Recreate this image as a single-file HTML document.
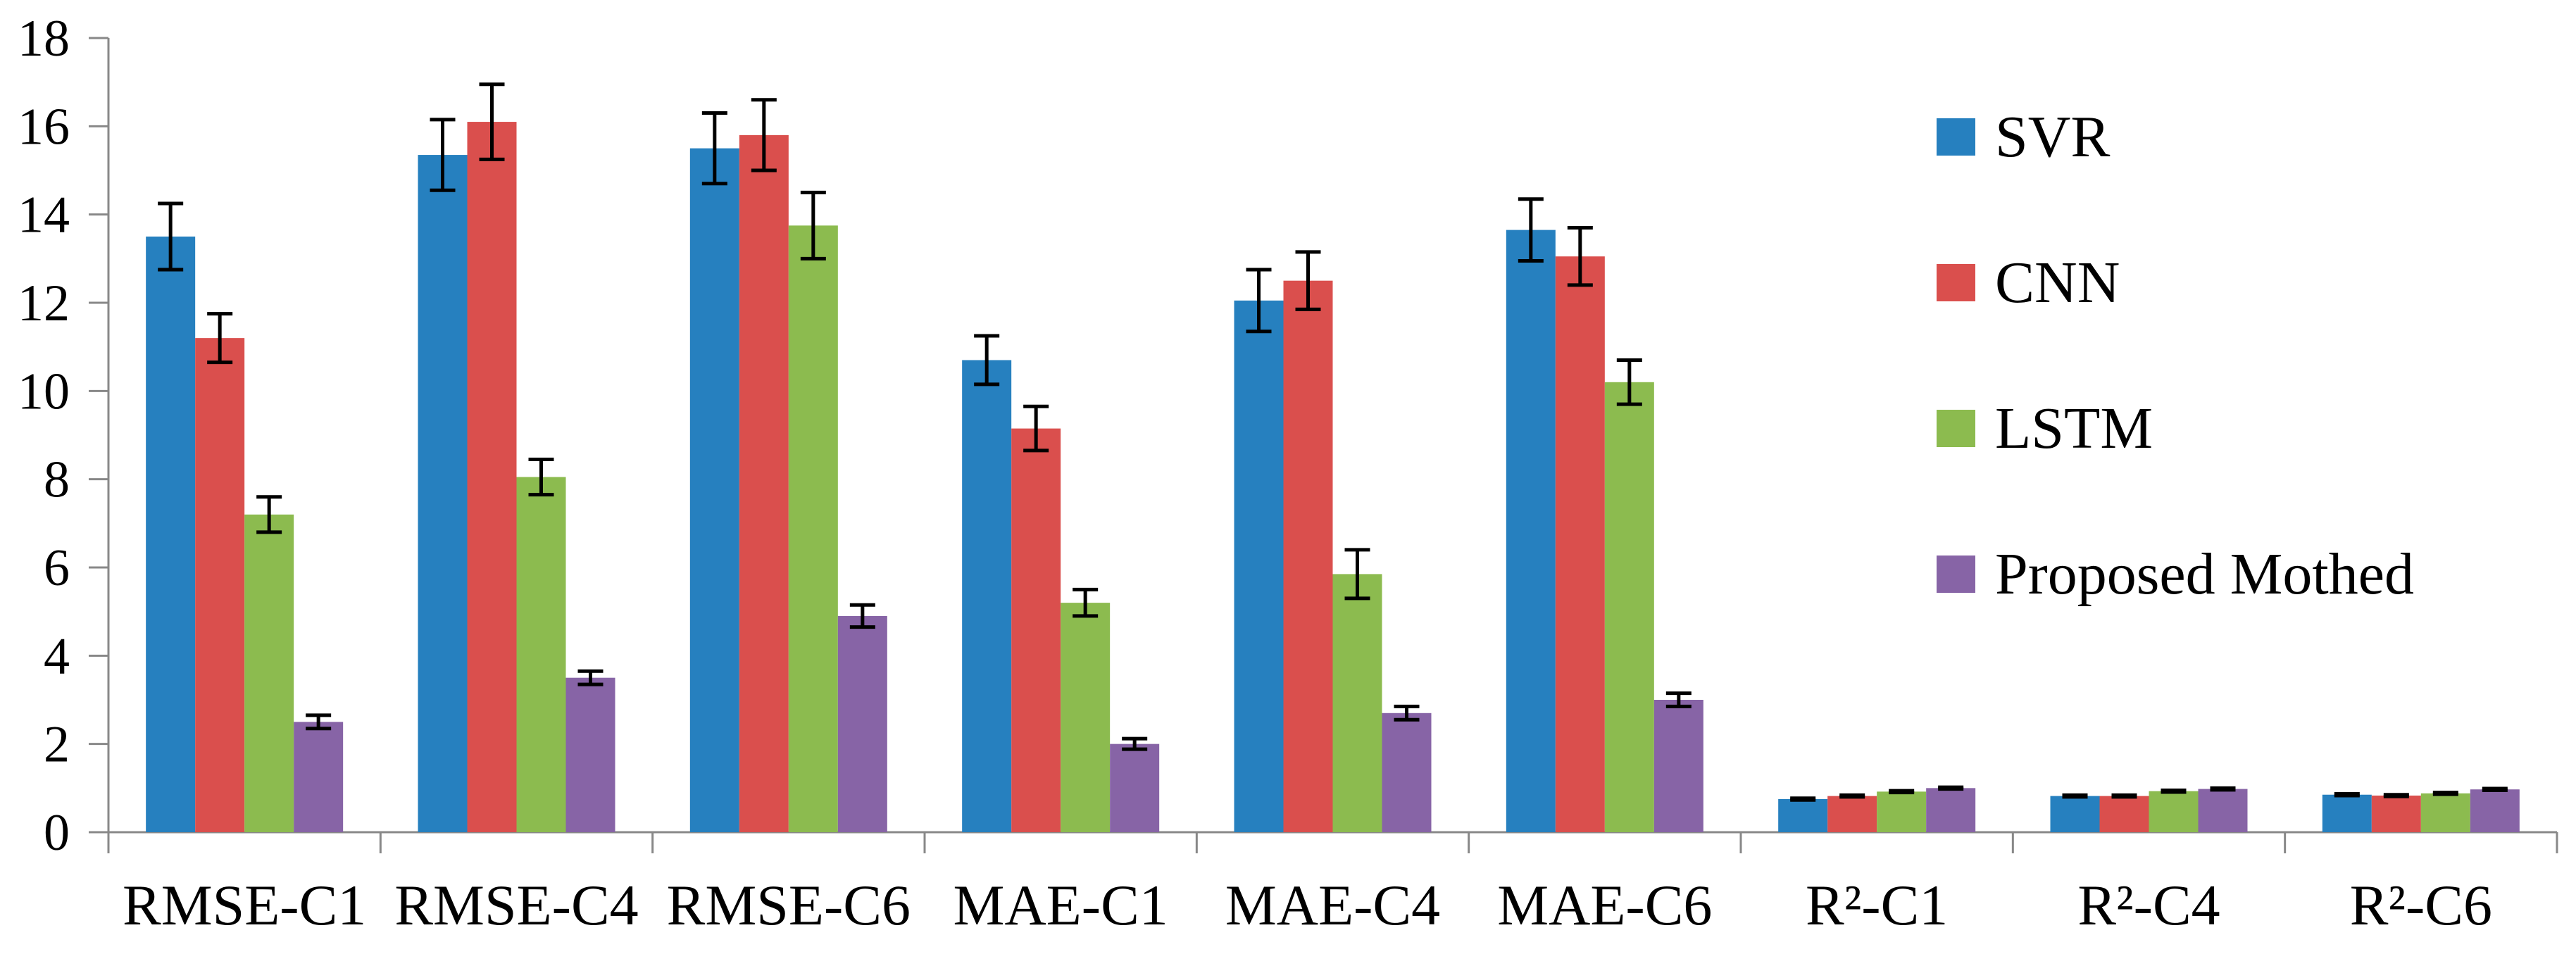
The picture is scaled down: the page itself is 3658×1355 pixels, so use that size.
<!DOCTYPE html>
<html><head><meta charset="utf-8"><style>
html,body{margin:0;padding:0;background:#fff;}
svg text{font-family:"Liberation Serif","Times New Roman",serif;fill:#000;}
</style></head><body>
<svg id="chart" width="3658" height="1350" viewBox="0 0 3658 1350" xmlns="http://www.w3.org/2000/svg" font-family="Liberation Serif, serif">
<g id="axes"></g><g id="bars"></g><g id="legend"></g>
</svg>
<script>
const categories = ["RMSE-C1","RMSE-C4","RMSE-C6","MAE-C1","MAE-C4","MAE-C6","R²-C1","R²-C4","R²-C6"];
const seriesNames = ["SVR","CNN","LSTM","Proposed Mothed"];
const svrValues = [13.5,15.35,15.5,10.7,12.05,13.65,0.75,0.82,0.85];
const cnnValues = [11.2,16.1,15.8,9.15,12.5,13.05,0.82,0.82,0.83];
const lstmValues = [7.2,8.05,13.75,5.2,5.85,10.2,0.92,0.93,0.88];
const propValues = [2.5,3.5,4.9,2.0,2.7,3.0,1.0,0.98,0.97];
const svrErr = [0.75,0.8,0.8,0.55,0.7,0.7,0.02,0.02,0.02];
const cnnErr = [0.55,0.85,0.8,0.5,0.65,0.65,0.02,0.02,0.02];
const lstmErr = [0.4,0.4,0.75,0.3,0.55,0.5,0.02,0.02,0.02];
const propErr = [0.15,0.15,0.25,0.12,0.15,0.15,0.02,0.02,0.02];
const yTicks = [0,2,4,6,8,10,12,14,16,18];

const colors = ["#2680BF","#DA4F4D","#8CBB4F","#8764A6"];
const values = [svrValues,cnnValues,lstmValues,propValues];
const errs = [svrErr,cnnErr,lstmErr,propErr];
const NS="http://www.w3.org/2000/svg";
const x0=154,x1=3631,yZero=1182,yTop=54;
const catW=(x1-x0)/categories.length;
const barW=70;
function y(v){return yZero-(v/18)*(yZero-yTop);}
function mk(tag,attrs,parent){const e=document.createElementNS(NS,tag);for(const k in attrs)e.setAttribute(k,attrs[k]);parent.appendChild(e);return e;}
const axes=document.getElementById('axes'),bars=document.getElementById('bars'),legend=document.getElementById('legend');

let yl=mk('line',{x1:x0,y1:yTop,x2:x0,y2:yZero+30,stroke:'#888','stroke-width':3},axes);


yTicks.forEach(t=>{
  let l=mk('line',{x1:x0-28,y1:y(t),x2:x0,y2:y(t),stroke:'#888','stroke-width':3},axes);
  
  
  let tx=mk('text',{x:x0-55,y:y(t)+25,'font-size':74,'text-anchor':'end'},axes);
  tx.textContent=t;
  
  
});
let xl=mk('line',{x1:x0,y1:yZero,x2:x1,y2:yZero,stroke:'#888','stroke-width':3},axes);


for(let i=0;i<=categories.length;i++){
  let tx=x0+i*catW;
  let l=mk('line',{x1:tx,y1:yZero,x2:tx,y2:yZero+30,stroke:'#888','stroke-width':3},axes);
  
  
}
categories.forEach((c,i)=>{
  let t=mk('text',{x:x0+(i+0.5)*catW,y:1313,'font-size':82,'text-anchor':'middle'},axes);
  t.textContent=c;
  
  
  const cx=x0+(i+0.5)*catW, start=cx-2*barW;
  values.forEach((arr,s)=>{
    const v=arr[i],bx=start+s*barW;
    let r=mk('rect',{x:bx,y:y(v),width:barW,height:yZero-y(v),fill:colors[s]},bars);
    
    
    const e=errs[s][i],ex=bx+barW/2;
    let g=mk('g',{stroke:'#000','stroke-width':5},bars);
    
    
    mk('line',{x1:ex,y1:y(v+e),x2:ex,y2:y(v-e)},g);
    mk('line',{x1:ex-18,y1:y(v+e),x2:ex+18,y2:y(v+e)},g);
    mk('line',{x1:ex-18,y1:y(v-e),x2:ex+18,y2:y(v-e)},g);
  });
});
seriesNames.forEach((n,s)=>{
  const ly=168+s*207;
  let g=mk('g',{},legend);
  
  
  mk('rect',{x:2750,y:ly,width:55,height:53,fill:colors[s]},g);
  let t=mk('text',{x:2833,y:ly+54,'font-size':84},g);
  t.textContent=n;
});
</script>
</body></html>
